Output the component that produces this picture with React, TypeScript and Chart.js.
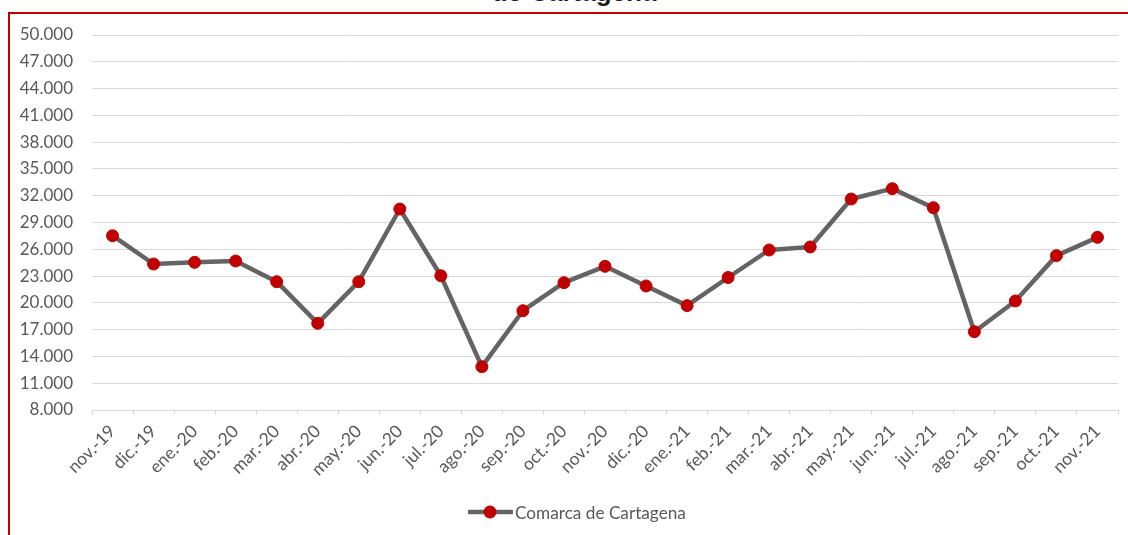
import React, { useEffect, useRef } from 'react';
import { Chart, registerables } from 'chart.js';

Chart.register(...registerables);

const categories: string[] = [
  'nov.-19', 'dic.-19', 'ene.-20', 'feb.-20', 'mar.-20', 'abr.-20', 'may.-20',
  'jun.-20', 'jul.-20', 'ago.-20', 'sep.-20', 'oct.-20', 'nov.-20', 'dic.-20',
  'ene.-21', 'feb.-21', 'mar.-21', 'abr.-21', 'may.-21', 'jun.-21', 'jul.-21',
  'ago.-21', 'sep.-21', 'oct.-21', 'nov.-21',
];

const comarcaValues: number[] = [
  27520, 24350, 24540, 24690, 22370, 17710, 22370,
  30510, 23040, 12850, 19120, 22260, 24090, 21890,
  19690, 22840, 25920, 26260, 31630, 32790, 30660,
  16770, 20210, 25290, 27340,
];

const seriesName = 'Comarca de Cartagena';
const titleText = 'de Cartagena';
const yMin = 8000;
const yMax = 50000;
const yStep = 3000;

const FONT = 'Lato, "Open Sans", "Liberation Sans", sans-serif';
const TEXT_COLOR = '#595959';
const GRID_COLOR = '#d9d9d9';
const LINE_COLOR = '#646464';
const MARKER_COLOR = '#c00000';

function formatThousands(v: number): string {
  return String(Math.round(v)).replace(/\B(?=(\d{3})+(?!\d))/g, '.');
}

export default function App() {
  const canvasRef = useRef<HTMLCanvasElement>(null);

  useEffect(() => {
    if (!canvasRef.current) return;
    const chart = new Chart(canvasRef.current, {
      type: 'line',
      data: {
        labels: categories,
        datasets: [
          {
            label: seriesName,
            data: comarcaValues,
            borderColor: LINE_COLOR,
            borderWidth: 4.5,
            pointBackgroundColor: MARKER_COLOR,
            pointBorderColor: MARKER_COLOR,
            pointRadius: 6,
            pointBorderWidth: 1,
            tension: 0,
            borderJoinStyle: 'round',
            borderCapStyle: 'round',
          },
        ],
      },
      options: {
        animation: false,
        responsive: false,
        maintainAspectRatio: false,
        devicePixelRatio: 1,
        layout: { padding: { left: 0, right: 10, top: 35, bottom: 0 } },
        plugins: {
          legend: { display: false },
          title: { display: false },
          tooltip: { enabled: false },
        },
        scales: {
          x: {
            type: 'category',
            offset: true,
            grid: {
              offset: true,
              drawOnChartArea: false,
              drawTicks: true,
              tickLength: 5,
              color: GRID_COLOR,
              lineWidth: 1,
            },
            border: { display: true, color: GRID_COLOR, width: 1 },
            ticks: {
              autoSkip: false,
              maxRotation: 45,
              minRotation: 45,
              color: TEXT_COLOR,
              font: { family: FONT, size: 17.5 },
              padding: 6,
            },
            afterFit: (scale: any) => {
              scale.height = 125;
            },
          },
          y: {
            min: yMin,
            max: yMax,
            ticks: {
              stepSize: yStep,
              callback: (v: any) => formatThousands(Number(v)),
              color: TEXT_COLOR,
              font: { family: FONT, size: 17 },
              padding: 19,
            },
            grid: { color: GRID_COLOR, lineWidth: 1, drawTicks: false },
            border: { display: false },
            afterFit: (scale: any) => {
              scale.width = 92;
            },
          },
        },
      },
    });
    return () => chart.destroy();
  }, []);

  return (
    <div
      style={{
        position: 'fixed',
        left: 0,
        top: 0,
        width: 1128,
        height: 535,
        overflow: 'hidden',
        background: '#ffffff',
        fontFamily: FONT,
      }}
    >
      <div
        style={{
          position: 'absolute',
          left: 374,
          width: 400,
          top: -21.5,
          height: 26,
          lineHeight: '26px',
          fontSize: 26,
          fontWeight: 700,
          color: '#1a1a1a',
          textAlign: 'center',
          fontFamily: '"Liberation Sans", Arial, sans-serif',
          whiteSpace: 'nowrap',
        }}
      >
        {titleText}
      </div>
      <div
        style={{
          position: 'absolute',
          left: 8,
          top: 12,
          width: 1200,
          height: 600,
          border: `2px solid ${MARKER_COLOR}`,
          boxSizing: 'border-box',
        }}
      />
      <canvas
        ref={canvasRef}
        width={1128}
        height={535}
        style={{ position: 'absolute', left: 0, top: 0, width: 1128, height: 535, display: 'block' }}
      />
      <div
        style={{
          position: 'absolute',
          left: 468,
          top: 502,
          height: 20,
          display: 'flex',
          alignItems: 'center',
          color: TEXT_COLOR,
          fontSize: 17.2,
          fontFamily: FONT,
          whiteSpace: 'nowrap',
        }}
      >
        <svg width={45} height={20} style={{ display: 'block' }}>
          <line x1={1} y1={10} x2={44} y2={10} stroke={LINE_COLOR} strokeWidth={4.5} strokeLinecap="round" />
          <circle cx={22} cy={10} r={6.5} fill={MARKER_COLOR} />
        </svg>
        <span style={{ marginLeft: 2 }}>{seriesName}</span>
      </div>
    </div>
  );
}
